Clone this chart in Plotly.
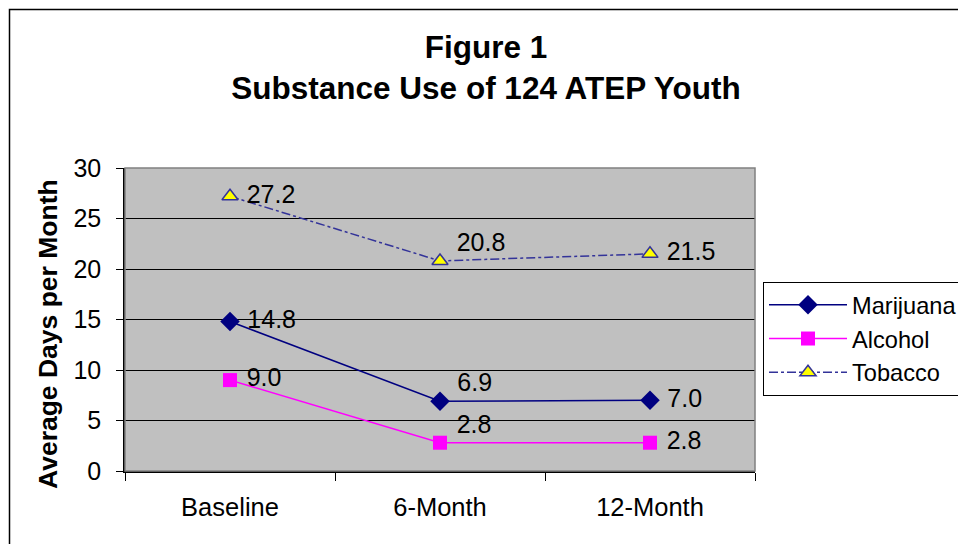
import plotly.graph_objects as go

categories = ["Baseline", "6-Month", "12-Month"]
marijuana = [14.8, 6.9, 7.0]
alcohol = [9.0, 2.8, 2.8]
tobacco = [27.2, 20.8, 21.5]
y_ticks = [0, 5, 10, 15, 20, 25, 30]

FONT = "Arial, Liberation Sans, sans-serif"
raised = [False, True, False]

def fmt(vals):
    out = []
    for v, up in zip(vals, raised):
        s = f" {v:.1f}"
        out.append(s + "<br> " if up else s)
    return out

fig = go.Figure()
fig.add_trace(go.Scatter(
    x=categories, y=marijuana, name="Marijuana", mode="lines+markers+text",
    line=dict(color="#000080", width=1.5),
    marker=dict(symbol="diamond", size=15, color="#000080"),
    text=fmt(marijuana), textposition="middle right",
    textfont=dict(family=FONT, size=25, color="black"),
))
fig.add_trace(go.Scatter(
    x=categories, y=alcohol, name="Alcohol", mode="lines+markers+text",
    line=dict(color="#FF00FF", width=1.5),
    marker=dict(symbol="square", size=14, color="#FF00FF"),
    text=fmt(alcohol), textposition="middle right",
    textfont=dict(family=FONT, size=25, color="black"),
))
fig.add_trace(go.Scatter(
    x=categories, y=tobacco, name="Tobacco", mode="lines+markers+text",
    line=dict(color="#333399", width=1.5, dash="dashdot"),
    marker=dict(symbol="triangle-up", size=14, color="#FFFF00",
                line=dict(color="#333399", width=1.5)),
    text=fmt(tobacco), textposition="middle right",
    textfont=dict(family=FONT, size=25, color="black"),
))

OFF = 8  # page body margin
W, H = 966 - OFF, 544 - OFF
L, T = 125 - OFF, 168 - OFF
R = W - (755 - OFF)
B = H - (471 - OFF)
pw, ph = W - L - R, H - T - B

fig.update_layout(
    width=W, height=H,
    margin=dict(l=L, r=R, t=T, b=B, pad=0, autoexpand=False),
    paper_bgcolor="white", plot_bgcolor="#C0C0C0",
    font=dict(family=FONT, size=24, color="black"),
    title=dict(text="<b>Figure 1<br>Substance Use of 124 ATEP Youth</b>",
               x=(486 - OFF) / W, xref="container", xanchor="center",
               y=1 - (67 - OFF - 9) / H, yref="container", yanchor="middle",
               font=dict(family=FONT, size=31.5, color="black")),
    showlegend=True,
    legend=dict(x=(763 - 125) / pw, xanchor="left", y=(471 - 282) / ph, yanchor="top",
                bordercolor="black", borderwidth=1, bgcolor="white",
                font=dict(family=FONT, size=23.6, color="black"),
                tracegroupgap=0, itemwidth=78),
    annotations=[
        dict(text="<b>Average Days per Month</b>", textangle=-90,
             xref="paper", yref="paper",
             x=(48 - 125) / pw, y=(471 - 334) / ph,
             xanchor="center", yanchor="middle", showarrow=False,
             font=dict(family=FONT, size=26.5, color="black")),
    ],
    shapes=[
        dict(type="rect", xref="paper", yref="paper", x0=0, x1=1, y0=0, y1=1,
             line=dict(color="#808080", width=1.5), layer="above"),
        dict(type="rect", xref="paper", yref="paper",
             x0=(9.5 - 125) / pw, x1=(966 + 20 - 125) / pw,
             y0=-1.0, y1=(471 - 9.5) / ph,
             line=dict(color="black", width=1.5), layer="above"),
    ],
)
fig.update_xaxes(
    type="category", range=[-0.5, 2.5], tickson="boundaries",
    ticks="outside", ticklen=8, tickcolor="black", tickwidth=1,
    showline=True, linecolor="black", linewidth=1.5,
    showgrid=False, ticklabelstandoff=13,
    tickfont=dict(family=FONT, size=25.5, color="black"),
)
fig.update_yaxes(
    range=[0, 30], tickvals=y_ticks, ticks="outside", ticklen=7,
    tickcolor="black", tickwidth=1,
    showline=True, linecolor="black", linewidth=1.5,
    showgrid=True, gridcolor="black", gridwidth=1, zeroline=False,
    ticklabelstandoff=10,
    tickfont=dict(family=FONT, size=25, color="black"),
)

fig.write_html("out.html")
